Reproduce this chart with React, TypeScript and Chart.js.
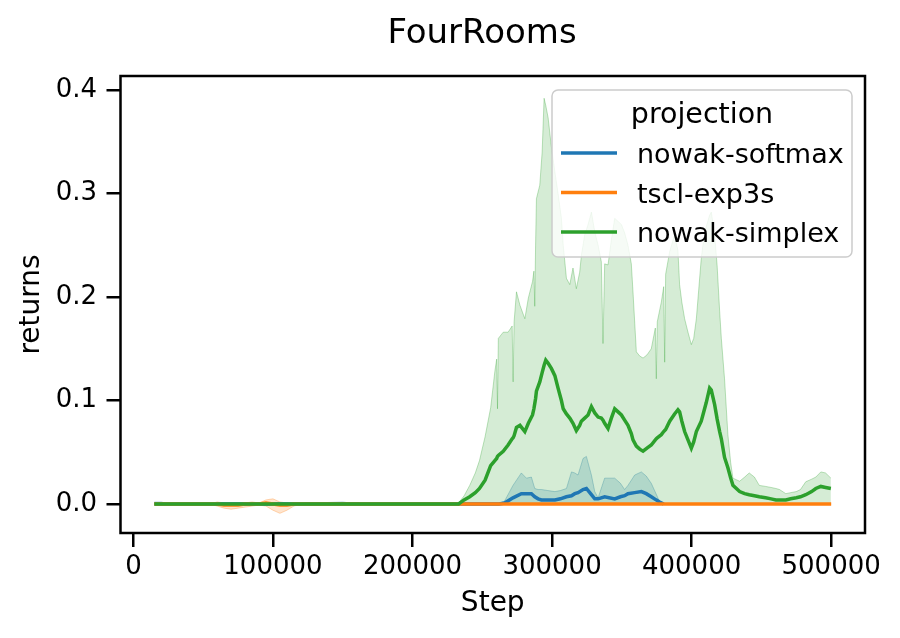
import React, { useEffect, useRef } from 'react';
import { Chart, registerables } from 'chart.js';

Chart.register(...registerables);

// ---------------- data ----------------
const TITLE = 'FourRooms';
const X_LABEL = 'Step';
const Y_LABEL = 'returns';
const LEGEND_TITLE = 'projection';
const SERIES_NAMES = ['nowak-softmax', 'tscl-exp3s', 'nowak-simplex'];
const COLORS = ['#1f77b4', '#ff7f0e', '#2ca02c'];
const BAND_COLORS = ['rgba(31,119,180,0.2)', 'rgba(255,127,14,0.2)', 'rgba(44,160,44,0.2)'];
const EDGE_COLORS = ['rgba(31,119,180,0.3)', 'rgba(255,127,14,0.3)', 'rgba(44,160,44,0.3)'];

const X_TICKS = [0, 100000, 200000, 300000, 400000, 500000];
const Y_TICKS = [0.0, 0.1, 0.2, 0.3, 0.4];

// nowak-softmax (blue)
const blueSteps = [15000, 20000, 25000, 60000, 100000, 140000, 150000, 155000, 200000, 262000, 266000, 272000, 278000, 281600, 285200, 287600, 290000, 292400, 297000, 302000, 306000, 310300, 313900, 316300, 318600, 322200, 324600, 328200, 330600, 333000, 337700, 344900, 349000, 352000, 354400, 359200, 364000, 367500, 371100, 374500, 377100, 380000];
const blueMean = [0, 0, 0, 0, 0, 0, 0, 0, 0, 0, 0.001, 0.006, 0.010, 0.010, 0.010, 0.007, 0.005, 0.004, 0.004, 0.004, 0.005, 0.007, 0.008, 0.010, 0.011, 0.014, 0.015, 0.009, 0.005, 0.005, 0.007, 0.005, 0.007, 0.008, 0.010, 0.011, 0.012, 0.010, 0.007, 0.004, 0.002, 0];
const blueLow = [0, 0, 0, 0, 0, 0, 0, 0, 0, 0, 0, 0, 0, 0, 0, 0, 0, 0, 0, 0, 0, 0, 0, 0, 0, 0, 0, 0, 0, 0, 0, 0, 0, 0, 0, 0, 0, 0, 0, 0, 0, 0];
const blueHigh = [0.002, 0.002, 0, 0, 0, 0.0015, 0.002, 0.001, 0, 0, 0.003, 0.018, 0.030, 0.025, 0.026, 0.015, 0.014, 0.014, 0.013, 0.012, 0.013, 0.015, 0.031, 0.030, 0.028, 0.044, 0.046, 0.028, 0.012, 0.006, 0.025, 0.025, 0.020, 0.014, 0.018, 0.028, 0.031, 0.027, 0.020, 0.010, 0.002, 0];

// tscl-exp3s (orange)
const orangeSteps = [15000, 50000, 55000, 60000, 65000, 70000, 75000, 80000, 85000, 90000, 95000, 100000, 105000, 110000, 115000, 120000, 200000, 300000, 400000, 500000];
const orangeMean = [0, 0, 0, 0, -0.001, -0.001, -0.001, 0, 0, 0, 0.001, 0, -0.001, -0.001, 0, 0, 0, 0, 0, 0];
const orangeLow = [0, 0, 0, -0.002, -0.004, -0.005, -0.004, -0.003, -0.002, -0.001, -0.002, -0.006, -0.009, -0.006, -0.002, 0, 0, 0, 0, 0];
const orangeHigh = [0, 0, 0, 0.002, 0.001, 0.001, 0.001, 0.001, 0.002, 0.001, 0.004, 0.005, 0.002, 0.001, 0, 0, 0, 0, 0, 0];

// nowak-simplex (green)
const greenSteps = [
  15000, 60000, 100000, 150000, 200000, 233000, 237000, 241000, 245000, 248000,
  252000, 256000, 259000, 260300, 260900, 261500, 265000, 268500, 271400, 272100,
  272800, 274500, 277000, 280500, 283000, 286000, 287000, 287600, 288200, 288800,
  291200, 292900, 294300, 295500, 297200, 299500, 302000, 304300, 306700, 308000,
  310300, 312700, 315000, 317400, 319800, 321000, 323400, 325800, 328200, 330600,
  333000, 335300, 336500, 337700, 340100, 342500, 344900, 347300, 349700, 352000,
  354400, 356800, 358000, 360400, 362800, 365200, 368000, 371100, 374000, 374700,
  375400, 378300, 380000, 380700, 381400, 384300, 387800, 390200, 391400, 393000,
  395000, 397400, 399800, 401500, 403400, 406900, 408100, 410500, 412900, 414100,
  416500, 418300, 420100, 421300, 423600, 426000, 428000, 429600, 434400, 438000,
  441300, 445000, 448500, 453000, 457000, 460400, 463000, 467500, 471000, 475000,
  478000, 481800, 486000, 489000, 492600, 496000, 499800,
];
const greenMean = [
  0, 0, 0, 0, 0, 0, 0.004, 0.007, 0.011, 0.015,
  0.023, 0.037, 0.042, 0.044, 0.046, 0.047, 0.051, 0.057, 0.063, 0.064,
  0.066, 0.074, 0.076, 0.070, 0.078, 0.086, 0.092, 0.097, 0.102, 0.109,
  0.118, 0.127, 0.134, 0.139, 0.136, 0.131, 0.124, 0.112, 0.100, 0.092,
  0.087, 0.083, 0.078, 0.071, 0.076, 0.080, 0.083, 0.086, 0.094, 0.088,
  0.084, 0.083, 0.081, 0.078, 0.073, 0.083, 0.092, 0.089, 0.086, 0.081,
  0.076, 0.068, 0.062, 0.056, 0.053, 0.051, 0.054, 0.057, 0.062, 0.063,
  0.064, 0.067, 0.070, 0.071, 0.072, 0.080, 0.087, 0.091, 0.089, 0.080,
  0.070, 0.062, 0.054, 0.060, 0.070, 0.080, 0.086, 0.098, 0.112, 0.110,
  0.096, 0.082, 0.070, 0.063, 0.045, 0.035, 0.025, 0.018, 0.012, 0.010,
  0.009, 0.008, 0.007, 0.006, 0.005, 0.004, 0.004, 0.004, 0.005, 0.006,
  0.007, 0.009, 0.012, 0.015, 0.017, 0.016, 0.015,
];
const greenLow = [
  0, 0, 0, 0, 0, 0, 0, 0, 0, 0,
  0, 0, 0, 0, 0, 0, 0, 0, 0, 0,
  0, 0, 0, 0, 0, 0, 0, 0, 0, 0,
  0, 0, 0, 0, 0, 0, 0, 0, 0, 0,
  0, 0, 0, 0, 0, 0, 0, 0, 0, 0,
  0, 0, 0, 0, 0, 0, 0, 0, 0, 0,
  0, 0, 0, 0, 0, 0, 0, 0, 0, 0,
  0, 0, 0, 0, 0, 0, 0, 0, 0, 0,
  0, 0, 0, 0, 0, 0, 0, 0, 0, 0,
  0, 0, 0, 0, 0, 0, 0, 0, 0, 0,
  0, 0, 0, 0, 0, 0, 0, 0, 0, 0,
  0, 0, 0, 0, 0, 0, 0,
];
const greenHigh = [
  0.001, 0.001, 0.001, 0.001, 0.001, 0.001, 0.008, 0.018, 0.030, 0.042,
  0.065, 0.093, 0.128, 0.140, 0.092, 0.160, 0.166, 0.166, 0.172, 0.118,
  0.176, 0.205, 0.192, 0.179, 0.199, 0.215, 0.225, 0.191, 0.250, 0.295,
  0.308, 0.340, 0.392, 0.385, 0.373, 0.345, 0.321, 0.300, 0.276, 0.250,
  0.218, 0.212, 0.228, 0.208, 0.224, 0.240, 0.260, 0.270, 0.282, 0.263,
  0.250, 0.234, 0.155, 0.232, 0.231, 0.255, 0.276, 0.273, 0.270, 0.262,
  0.250, 0.232, 0.205, 0.147, 0.143, 0.141, 0.144, 0.150, 0.170, 0.121,
  0.176, 0.195, 0.210, 0.137, 0.222, 0.244, 0.260, 0.245, 0.212, 0.195,
  0.179, 0.166, 0.154, 0.160, 0.179, 0.237, 0.250, 0.268, 0.279, 0.282,
  0.260, 0.230, 0.186, 0.160, 0.121, 0.067, 0.040, 0.025, 0.022, 0.026,
  0.030, 0.026, 0.018, 0.017, 0.016, 0.015, 0.014, 0.010, 0.011, 0.012,
  0.014, 0.0215, 0.024, 0.026, 0.031, 0.030, 0.025,
];

const X_MIN = -9250;
const X_MAX = 524250;
const Y_MIN = -0.028;
const Y_MAX = 0.4135;

// ---------------- helpers ----------------
const pts = (xs: number[], ys: number[]) => xs.map((x, i) => ({ x, y: ys[i] }));

const FONT = "'DejaVu Sans'";

const framePlugin = {
  id: 'mplFrame',
  afterDatasetsDraw(chart: any) {
    const { ctx, chartArea } = chart;
    ctx.save();
    ctx.strokeStyle = '#000';
    ctx.lineWidth = 2.5;
    ctx.strokeRect(chartArea.left, chartArea.top, chartArea.right - chartArea.left, chartArea.bottom - chartArea.top);
    ctx.restore();
  },
};

const titlePlugin = {
  id: 'mplTitle',
  afterDraw(chart: any) {
    const ctx = chart.ctx;
    ctx.save();
    ctx.fillStyle = '#000';
    ctx.font = `34px ${FONT}`;
    ctx.textAlign = 'center';
    ctx.textBaseline = 'alphabetic';
    ctx.fillText(TITLE, 482, 43);
    ctx.restore();
  },
};

const legendPlugin = {
  id: 'mplLegend',
  afterDraw(chart: any) {
    const ctx = chart.ctx;
    ctx.save();
    const x0 = 552, y0 = 90, w = 300, h = 167;
    ctx.beginPath();
    if (ctx.roundRect) ctx.roundRect(x0, y0, w, h, 6);
    else ctx.rect(x0, y0, w, h);
    ctx.fillStyle = 'rgba(255,255,255,0.8)';
    ctx.fill();
    ctx.strokeStyle = '#cccccc';
    ctx.lineWidth = 1.5;
    ctx.stroke();
    ctx.fillStyle = '#000';
    ctx.font = `28.5px ${FONT}`;
    ctx.textBaseline = 'alphabetic';
    ctx.textAlign = 'center';
    ctx.fillText(LEGEND_TITLE, x0 + w / 2, 123);
    ctx.textAlign = 'left';
    ctx.font = `27px ${FONT}`;
    SERIES_NAMES.forEach((name, i) => {
      const y = 153 + i * 39.5;
      ctx.strokeStyle = COLORS[i];
      ctx.lineWidth = 3.5;
      ctx.beginPath();
      ctx.moveTo(561, y);
      ctx.lineTo(617, y);
      ctx.stroke();
      ctx.fillStyle = '#000';
      ctx.fillText(name, 637, y + 10);
    });
    ctx.restore();
  },
};

export default function App() {
  const ref = useRef<HTMLCanvasElement | null>(null);

  useEffect(() => {
    if (!ref.current) return;
    Chart.defaults.font.family = FONT;
    Chart.defaults.color = '#000';

    const bands = [
      [blueSteps, blueLow, blueHigh],
      [orangeSteps, orangeLow, orangeHigh],
      [greenSteps, greenLow, greenHigh],
    ] as number[][][];
    const means = [
      [blueSteps, blueMean],
      [orangeSteps, orangeMean],
      [greenSteps, greenMean],
    ] as number[][][];

    const datasets: any[] = [];
    bands.forEach(([xs, lo, hi], i) => {
      const lowIndex = datasets.length;
      datasets.push({
        label: SERIES_NAMES[i] + ' low',
        data: pts(xs, lo),
        borderColor: EDGE_COLORS[i],
        borderWidth: 1,
        pointRadius: 0,
        fill: false,
        tension: 0,
        order: 9 - i,
      });
      datasets.push({
        label: SERIES_NAMES[i] + ' high',
        data: pts(xs, hi),
        borderColor: EDGE_COLORS[i],
        borderWidth: 1,
        backgroundColor: BAND_COLORS[i],
        pointRadius: 0,
        fill: lowIndex,
        tension: 0,
        order: 9 - i,
      });
    });
    means.forEach(([xs, ys], i) => {
      datasets.push({
        label: SERIES_NAMES[i],
        data: pts(xs, ys),
        borderColor: COLORS[i],
        borderWidth: 3.5,
        pointRadius: 0,
        fill: false,
        tension: 0,
        order: 3 - i,
      });
    });

    const chart = new Chart(ref.current, {
      type: 'line',
      data: { datasets },
      plugins: [framePlugin, legendPlugin, titlePlugin],
      options: {
        animation: false,
        responsive: false,
        devicePixelRatio: 1,
        layout: { padding: { left: 0, right: 35, top: 76, bottom: 0 } },
        plugins: {
          legend: { display: false },
          tooltip: { enabled: false },
          title: { display: false },
        },
        scales: {
          x: {
            type: 'linear',
            min: X_MIN,
            max: X_MAX,
            afterBuildTicks: (s: any) => { s.ticks = X_TICKS.map((v) => ({ value: v })); },
            afterFit: (s: any) => { s.height = 105; },
            ticks: {
              font: { size: 26, family: FONT },
              color: '#000',
              padding: 5,
              maxRotation: 0,
              autoSkip: false,
              callback: (v: any) => String(v),
            },
            grid: { display: true, drawOnChartArea: false, drawTicks: true, tickLength: 14, color: '#000', lineWidth: 2.5 },
            border: { display: false },
            title: { display: true, text: X_LABEL, color: '#000', font: { size: 28, family: FONT }, padding: { top: 0, bottom: 17 } },
          },
          y: {
            type: 'linear',
            min: Y_MIN,
            max: Y_MAX,
            afterBuildTicks: (s: any) => { s.ticks = Y_TICKS.map((v) => ({ value: v })); },
            afterFit: (s: any) => { s.width = 120.5; },
            ticks: {
              font: { size: 26, family: FONT },
              color: '#000',
              padding: 9.5,
              autoSkip: false,
              callback: (v: any) => Number(v).toFixed(1),
            },
            grid: { display: true, drawOnChartArea: false, drawTicks: true, tickLength: 14, color: '#000', lineWidth: 2.5 },
            border: { display: false },
            title: { display: true, text: Y_LABEL, color: '#000', font: { size: 28, family: FONT }, padding: { top: 15, bottom: 0 } },
          },
        },
      } as any,
    });
    return () => chart.destroy();
  }, []);

  return (
    <div style={{ position: 'fixed', left: 0, top: 0, width: 900, height: 638, background: '#fff' }}>
      <canvas ref={ref} width={900} height={638} style={{ width: 900, height: 638, display: 'block' }} />
    </div>
  );
}
